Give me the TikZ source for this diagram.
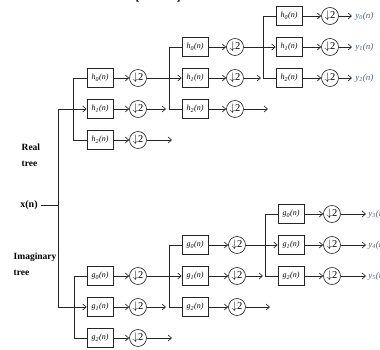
\documentclass[tikz,border=0pt]{standalone}
\usepackage{fontspec}
\setmainfont{Liberation Serif}
\usepackage{amsmath}
\usepackage{tikz}
\usetikzlibrary{arrows.meta}
\definecolor{ausblau}{RGB}{70,95,150}

\begin{document}
\begin{tikzpicture}[x=1pt,y=-1pt,line width=0.65pt,draw=black!85,
  >={Straight Barb[length=3.5pt,width=6pt]},
  filt/.style={draw,minimum width=26pt,minimum height=19pt,inner sep=1pt,font=\fontsize{8}{9}\selectfont\itshape},
  ds/.style={draw,circle,minimum size=17pt,inner sep=0pt,font=\fontsize{10.5}{10.5}\selectfont},
  aus/.style={anchor=west,inner sep=0pt,text=ausblau,font=\fontsize{9}{10}\selectfont\itshape},
  baum/.style={anchor=west,align=left,font=\bfseries\fontsize{9.5}{16}\selectfont}]
\useasboundingbox (0,0) rectangle (380,350);

\node[font=\bfseries\fontsize{12}{12}\selectfont,anchor=base] (kl) at (158,1) {[\hspace{37pt}]}; %abgeschnitten

%Eingang
\node[font=\bfseries\fontsize{10}{11}\selectfont] (xn) at (29,205) {x(n)};
\node[baum] (rt) at (18,155) {Real\\tree};
\node[baum] (it) at (10,264) {Imaginary\\tree};
\coordinate (ra) at (58,109);
\coordinate (ia) at (58,307);
\draw (ra) -- (ia); %Stamm
\draw (xn) -- (xn -| ra);

%Realbaum
\foreach \i/\y in {0/78,1/109,2/140}{
  \node[filt] (ha\i) at (100,\y) {h\textsubscript{\i}(n)};
  \node[ds] (dha\i) at (138,\y) {$\downarrow$2};
  \draw[->] (ha\i) -- (dha\i);
}
\foreach \i/\y in {0/47,1/78,2/109}{
  \node[filt] (hb\i) at (195,\y) {h\textsubscript{\i}(n)};
  \node[ds] (dhb\i) at (235,\y) {$\downarrow$2};
  \draw[->] (hb\i) -- (dhb\i);
}
\foreach \i/\y in {0/16,1/47,2/78}{
  \node[filt] (hc\i) at (289,\y) {h\textsubscript{\i}(n)};
  \node[ds] (dhc\i) at (330,\y) {$\downarrow$2};
  \draw[->] (hc\i) -- (dhc\i);
  \draw[->] (dhc\i) -- ++(22,0) node[aus] (yh\i) at ++(3,0) {y\textsubscript{\i}(n)};
}
\draw[->] (ra) -- (ha1);
\draw (ha0.west) -- ++(-13,0) |- (ha2.west);
\draw[->] (dha0) -- (hb1);
\draw[->] (dha1) -- ++(28,0);
\draw[->] (dha2) -- ++(34,0);
\draw (hb0.west) -- ++(-12,0) |- (hb2.west);
\draw[->] (dhb0) -- (hc1);
\draw[->] (dhb1) -- ++(26,0);
\draw[->] (dhb2) -- ++(33,0);
\draw (hc0.west) -- ++(-12,0) |- (hc2.west);

%Imaginaerbaum
\foreach \i/\y in {0/276,1/307,2/338}{
  \node[filt] (ga\i) at (100,\y) {g\textsubscript{\i}(n)};
  \node[ds] (dga\i) at (138,\y) {$\downarrow$2};
  \draw[->] (ga\i) -- (dga\i);
}
\foreach \i/\y in {0/245,1/276,2/307}{
  \node[filt] (gb\i) at (195,\y) {g\textsubscript{\i}(n)};
  \node[ds] (dgb\i) at (237,\y) {$\downarrow$2};
  \draw[->] (gb\i) -- (dgb\i);
}
\foreach \i/\j/\y in {0/3/214,1/4/245,2/5/276}{
  \node[filt] (gc\i) at (291,\y) {g\textsubscript{\i}(n)};
  \node[ds] (dgc\i) at (332,\y) {$\downarrow$2};
  \draw[->] (gc\i) -- (dgc\i);
  \draw[->] (dgc\i) -- ++(34,0) node[aus] (yg\i) at ++(2,0) {y\textsubscript{\j}(n)};
}
\draw[->] (ia) -- (ga1);
\draw (ga0.west) -- ++(-12,0) |- (ga2.west);
\draw[->] (dga0) -- (gb1);
\draw[->] (dga1) -- ++(28,0);
\draw[->] (dga2) -- ++(34,0);
\draw (gb0.west) -- ++(-12,0) |- (gb2.west);
\draw[->] (dgb0) -- (gc1);
\draw[->] (dgb1) -- ++(26,0);
\draw[->] (dgb2) -- ++(33,0);
\draw (gc0.west) -- ++(-12,0) |- (gc2.west);

\end{tikzpicture}
\end{document}
